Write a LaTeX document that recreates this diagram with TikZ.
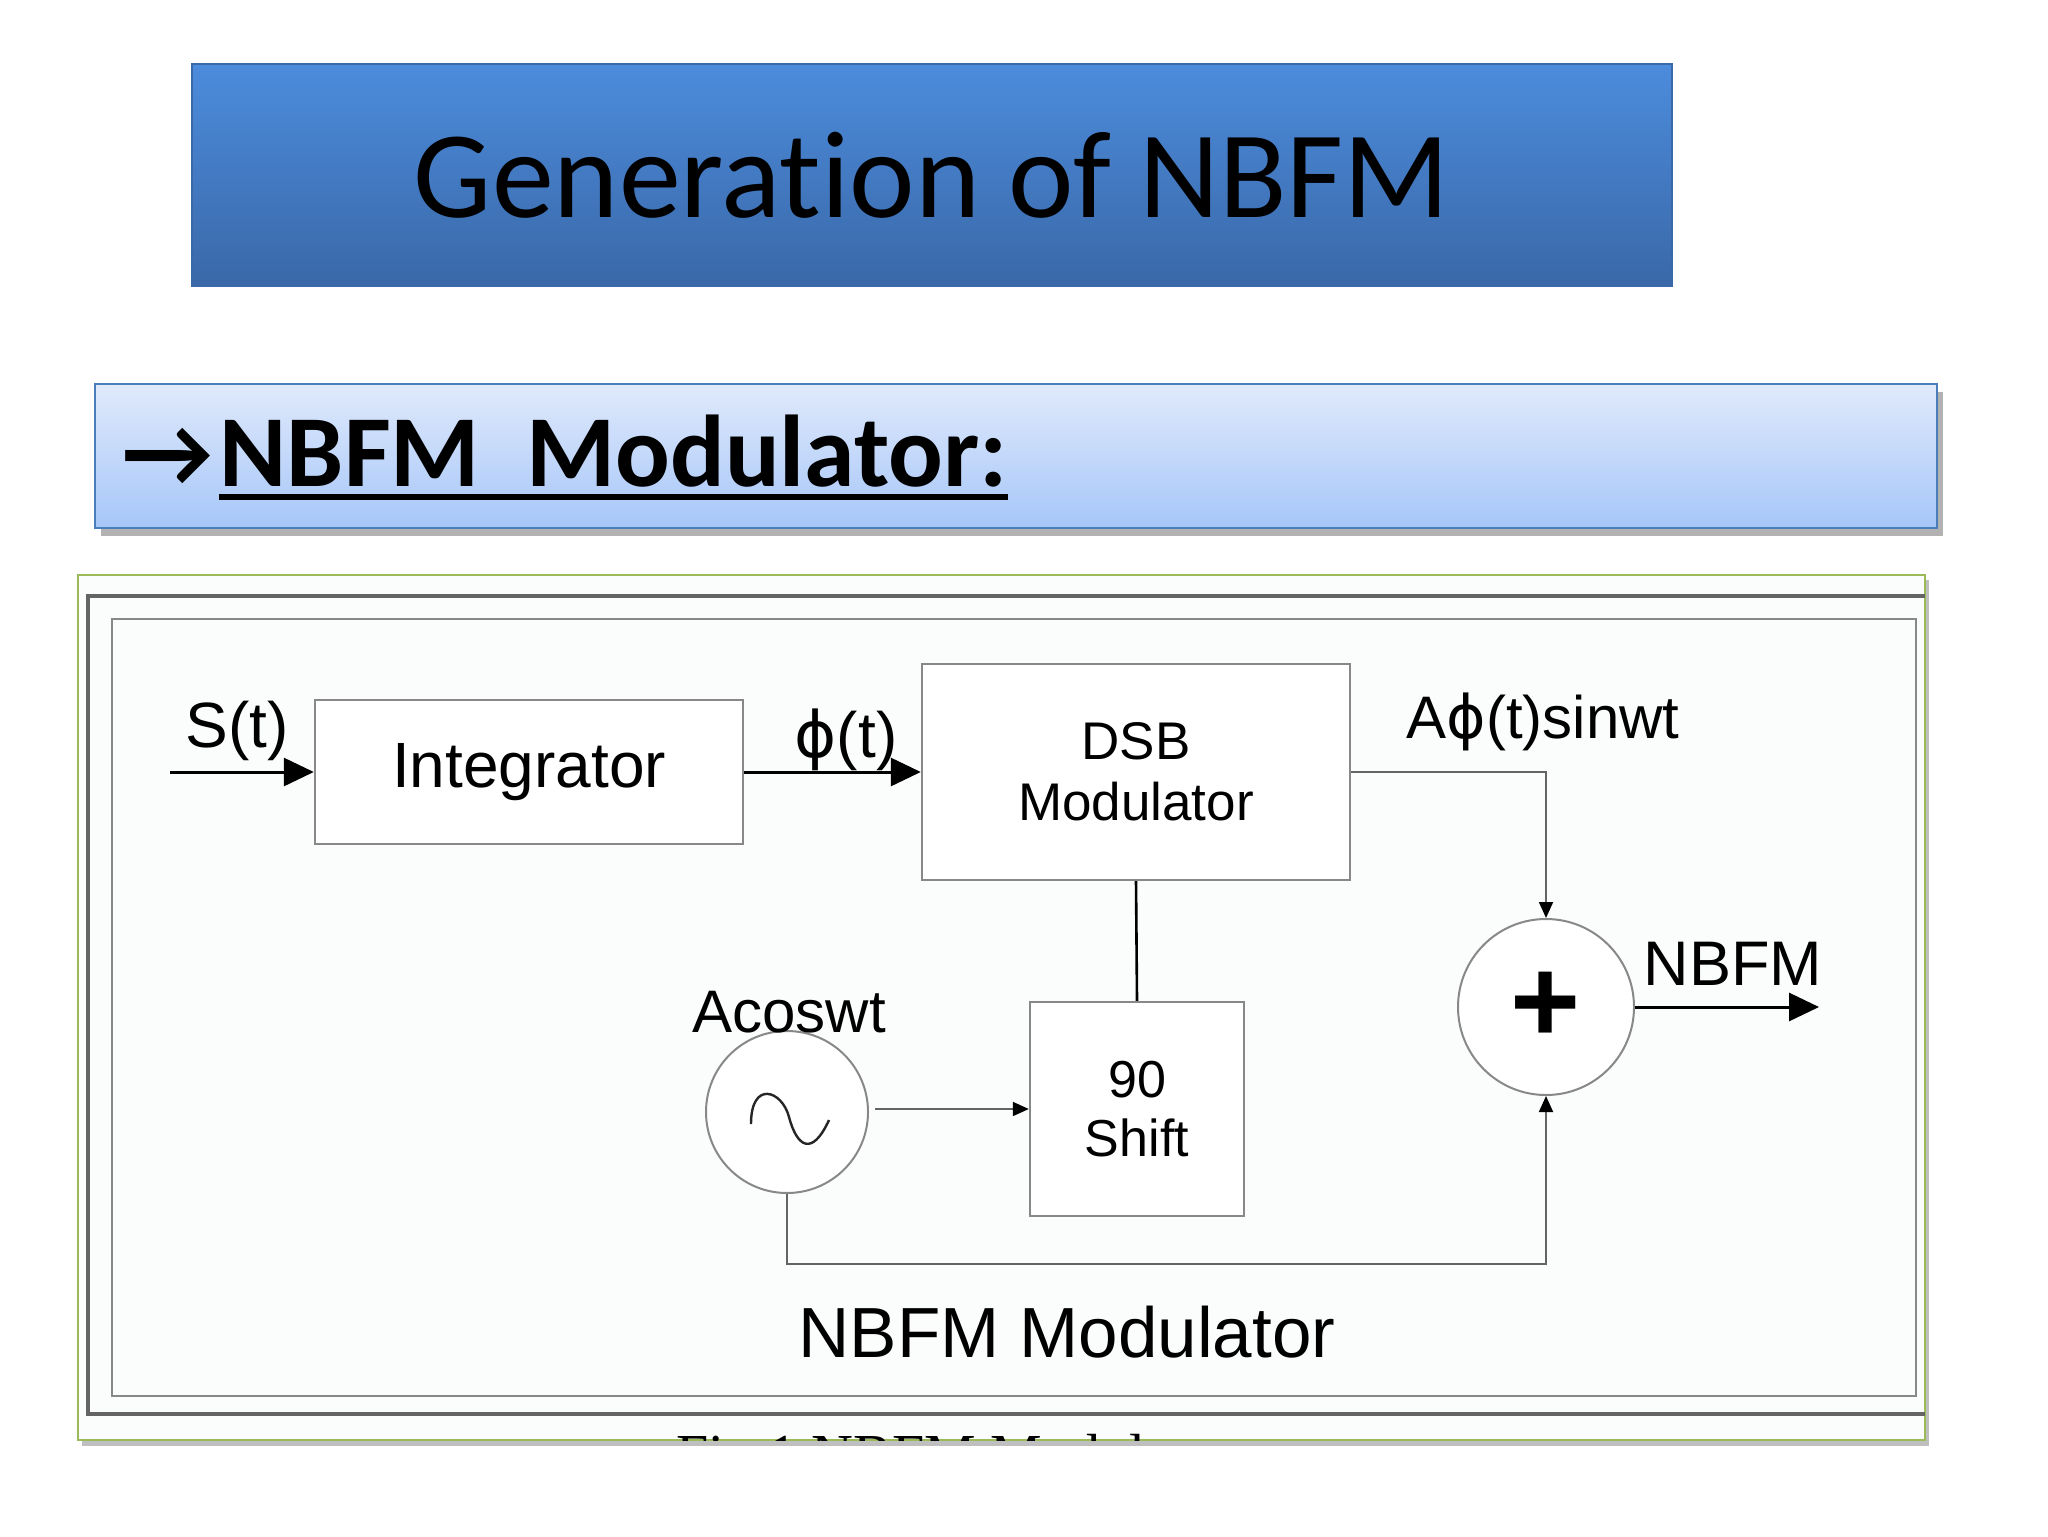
\documentclass[tikz,border=0pt]{standalone}
\usepackage{fontspec}
\setmainfont{Liberation Sans}
\newfontfamily\slidefont[Ligatures=NoCommon]{Carlito}
\newfontfamily\capfont{Liberation Serif}
\newfontfamily\phifont{DejaVu Sans}
\newcommand{\phisym}{{\phifont ϕ}}
\usepackage{tikz}
\usetikzlibrary{shapes,arrows.meta}

\definecolor{titletop}{RGB}{76,140,220}
\definecolor{titlebot}{RGB}{58,104,168}
\definecolor{subtop}{RGB}{224,234,252}
\definecolor{subbot}{RGB}{166,198,248}
\definecolor{subedge}{RGB}{74,126,187}
\definecolor{framegreen}{RGB}{155,187,89}
\definecolor{boxgray}{RGB}{136,136,136}
\definecolor{linegray}{RGB}{100,100,100}

\begin{document}
\begin{tikzpicture}[x=0.5pt,y=0.5pt,yscale=-1,xscale=1,
  blk/.style={draw=boxgray,line width=1.2pt,fill=white,align=center,inner sep=0pt},
  rnd/.style={circle,draw=boxgray,line width=1pt,fill=white,inner sep=0pt},
  lbl/.style={inner sep=0pt,font=\fontsize{32}{36}\selectfont},
  bigarrow/.style={line width=1.5pt,-{Triangle[length=15pt,width=14pt]}},
  smallarrow/.style={draw=linegray,line width=0.9pt,-{Triangle[length=8pt,width=7pt,color=black]}}]
\useasboundingbox[fill=white] (0,0) rectangle (2048,1536);
%Shape: Rectangle (title bar)
\node (title) at (932,175) [draw=titlebot,line width=0.6pt,top color=titletop,bottom color=titlebot,minimum width=740pt,minimum height=111pt,inner sep=0pt] {\slidefont\fontsize{62}{70}\selectfont Generation of NBFM};
%Shape: Rectangle (sub title bar)
\fill[black!30] (101,392) rectangle (1943,536);
\node (subbar) at (1016,456) [draw=subedge,line width=1pt,top color=subtop,bottom color=subbot,minimum width=921pt,minimum height=72pt,inner sep=0pt] {};
% Text Node
\node (arr) at (122,486) [anchor=base west,inner sep=0pt] {\slidefont\bfseries\fontsize{50}{56}\selectfont →};
% Text Node
\node (subtxt) at ([xshift=3pt]arr.base east) [anchor=base west,inner sep=0pt] {\slidefont\bfseries\fontsize{51}{56}\selectfont NBFM\ \ Modulator:};
\draw[line width=3pt] ([yshift=5.5pt]subtxt.base west) -- ([yshift=5.5pt]subtxt.base east);
%Shape: Rectangle (figure frame)
\fill[black!25] (82,580) rectangle (1929,1446);
\draw[draw=framegreen,line width=1pt,fill={rgb,255:red,251;green,252;blue,252}] (78,575) rectangle (1925,1440);
\draw[linegray,line width=1.6pt] (1925,596) -- (88,596) -- (88,1414) -- (1925,1414);
\draw[boxgray,line width=1pt] (112,619) rectangle (1916,1396);
\begin{scope}
\clip (78,575) rectangle (1925,1440);
% Text Node
\node (figcap) at (956,1474) [anchor=base,inner sep=0pt] {\capfont\fontsize{29}{32}\selectfont Fig.1 NBFM Modulator};
\end{scope}
%Blocks
\node (integ) at (529,772) [blk,minimum width=214pt,minimum height=72pt,font=\fontsize{32}{38}\selectfont] {Integrator};
\node (dsb) at (1136,772) [blk,minimum width=214pt,minimum height=108pt,font=\fontsize{26.5}{30.5}\selectfont] {DSB\\Modulator};
\node (shift) at (1137,1109) [blk,minimum width=107pt,minimum height=107pt,font=\fontsize{26}{29.5}\selectfont] {90\\Shift};
\node (sum) at (1546,1007) [rnd,minimum size=88pt] {\bfseries\fontsize{60}{60}\selectfont +};
\node (osc) at (787,1112) [rnd,minimum size=81pt] {};
\coordinate (in) at (170,772);
\coordinate (out) at (1819,1007);
%Sine wave
\draw[black!85,line width=1.2pt] ([shift={(-36,12)}]osc.center) .. controls ([shift={(-36,-32)}]osc.center) and ([shift={(-5,-22)}]osc.center) .. ([shift={(2,5)}]osc.center) .. controls ([shift={(10,35)}]osc.center) and ([shift={(25,45)}]osc.center) .. ([shift={(42,8)}]osc.center);
%Connectors
\draw[bigarrow] (in) -- (integ.west);
\draw[bigarrow] (integ.east) -- (dsb.west);
\draw[smallarrow] (dsb.east) -| (sum.north);
\draw[bigarrow] (sum.east) -- (out);
\draw[black,line width=1.3pt] (dsb.south) -- (shift.north);
\draw[smallarrow] ([xshift=3pt]osc.east |- shift.west) -- (shift.west);
\draw[smallarrow] (osc.south) -- ++(0,70) -| (sum.south);
% Text Node
\node (slbl) at (237,731) [lbl] {S(t)};
% Text Node
\node (philbl) at (846,740) [lbl] {\phisym(t)};
% Text Node
\node (dsblbl) at (1543,722) [lbl,font=\fontsize{30}{34}\selectfont] {A\phisym(t)sinwt};
% Text Node
\node (outlbl) at (1733,964) [lbl,font=\fontsize{31.5}{36}\selectfont] {NBFM};
% Text Node
\node (osclbl) at (789,1012) [lbl,font=\fontsize{30}{34}\selectfont] {Acoswt};
% Text Node
\node (figlbl) at (1067,1332) [lbl,font=\fontsize{35.5}{40}\selectfont] {NBFM Modulator};
\end{tikzpicture}
\end{document}
